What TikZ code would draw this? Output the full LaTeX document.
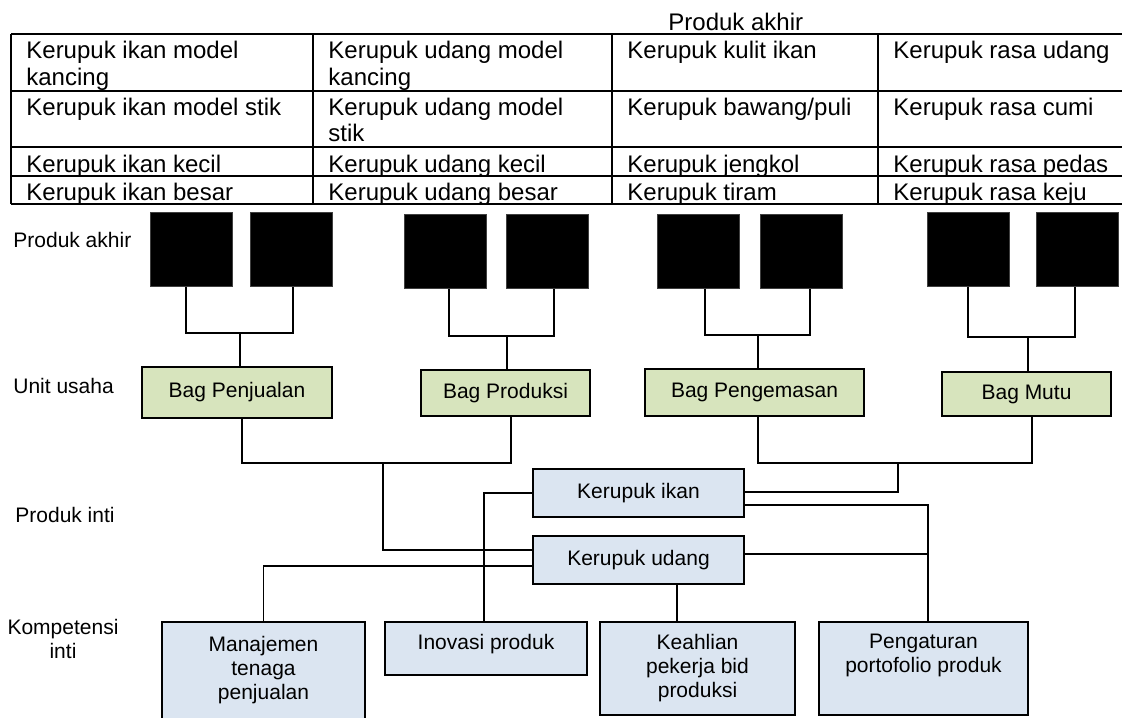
\documentclass[tikz,border=0pt]{standalone}
\usepackage{fontspec}
\setmainfont{Liberation Sans}
\definecolor{gfill}{HTML}{D7E4BD}
\definecolor{bfill}{HTML}{DBE5F1}
\tikzset{
  tline/.style={line width=1pt},
  conn/.style={line width=0.9pt},
  ttext/.style={anchor=base west, inner sep=0pt, font=\fontsize{12}{13}\selectfont},
  lbl/.style={inner sep=0pt, font=\fontsize{10.5}{12}\selectfont},
  blk/.style={draw=black!75, fill=black, line width=0.5pt, minimum width=41pt, minimum height=37pt, inner sep=0pt},
  gbox/.style={draw, line width=0.9pt, fill=gfill, inner sep=0pt, font=\fontsize{10.5}{12}\selectfont},
  kbox/.style={draw, line width=0.9pt, fill=bfill, inner sep=0pt, align=center, font=\fontsize{10.5}{12}\selectfont},
}
\begin{document}
\begin{tikzpicture}[x=0.5pt,y=-0.5pt]
\useasboundingbox (0,0) rectangle (1122,717);
% ---------- table ----------
\node[ttext] (title) at (668,31) {Produk akhir};
\foreach \yy in {34,90.7,147.3,175.7,204.3} \draw[tline] (11,\yy) -- (1122,\yy);
\foreach \xx in {11,313,612,878} \draw[tline] (\xx,34) -- (\xx,204.3);
% row 1
\node[ttext] (t11) at (26,59) {Kerupuk ikan model};
\node[ttext] (t11b) at (26,85) {kancing};
\node[ttext] (t12) at (328,59) {Kerupuk udang model};
\node[ttext] (t12b) at (328,85) {kancing};
\node[ttext] (t13) at (627,59) {Kerupuk kulit ikan};
\node[ttext] (t14) at (893,59) {Kerupuk rasa udang};
% row 2
\node[ttext] (t21) at (26,115.7) {Kerupuk ikan model stik};
\node[ttext] (t22) at (328,115.7) {Kerupuk udang model};
\node[ttext] (t22b) at (328,141.7) {stik};
\node[ttext] (t23) at (627,115.7) {Kerupuk bawang/puli};
\node[ttext] (t24) at (893,115.7) {Kerupuk rasa cumi};
% row 3
\node[ttext] (t31) at (26,172) {Kerupuk ikan kecil};
\node[ttext] (t32) at (328,172) {Kerupuk udang kecil};
\node[ttext] (t33) at (627,172) {Kerupuk jengkol};
\node[ttext] (t34) at (893,172) {Kerupuk rasa pedas};
% row 4
\node[ttext] (t41) at (26,200.5) {Kerupuk ikan besar};
\node[ttext] (t42) at (328,200.5) {Kerupuk udang besar};
\node[ttext] (t43) at (627,200.5) {Kerupuk tiram};
\node[ttext] (t44) at (893,200.5) {Kerupuk rasa keju};
% ---------- left labels ----------
\node[lbl, anchor=west] (l1) at (13,240) {Produk akhir};
\node[lbl, anchor=west] (l2) at (13,386) {Unit usaha};
\node[lbl, anchor=west] (l3) at (15,515) {Produk inti};
\node[lbl, align=center] (l4) at (63,639) {Kompetensi\\inti};
% ---------- black boxes ----------
\node[blk] (b1) at (191,249) {};
\node[blk] (b2) at (291,249) {};
\node[blk] (b3) at (445.5,251) {};
\node[blk] (b4) at (547,251) {};
\node[blk] (b5) at (698,251) {};
\node[blk] (b6) at (801.5,251) {};
\node[blk] (b7) at (968,249) {};
\node[blk] (b8) at (1077,249) {};
% ---------- unit boxes ----------
\node[gbox, minimum width=95pt, minimum height=25.5pt] (bp) at (237,392.5) {Bag Penjualan};
\node[gbox, minimum width=84.5pt, minimum height=23pt] (bq) at (505.5,393) {Bag Produksi};
\node[gbox, minimum width=109.5pt, minimum height=23.5pt] (bg) at (754.5,392.5) {Bag Pengemasan};
\node[gbox, minimum width=84.5pt, minimum height=22pt] (bm) at (1026.5,394) {\raisebox{-1.5pt}{Bag Mutu}};
% ---------- core products ----------
\node[kbox, minimum width=105.5pt, minimum height=24pt] (ki) at (638.5,493) {Kerupuk ikan};
\node[kbox, minimum width=105.5pt, minimum height=24pt] (ku) at (638.5,560) {Kerupuk udang};
% ---------- competences ----------
\node[kbox, anchor=north, minimum width=101.5pt, minimum height=70pt] (mj) at (263.5,621) {Manajemen\\tenaga\\penjualan\\\mbox{}\\\mbox{}};
\node[kbox, anchor=north, minimum width=101pt, minimum height=26.5pt] (ip) at (486,621) {Inovasi produk\\[-5pt]\mbox{}};
\node[kbox, anchor=north, minimum width=97.5pt, minimum height=46.5pt] (kh) at (697.5,621) {Keahlian\\pekerja bid\\produksi};
\node[kbox, anchor=north, minimum width=104.5pt, minimum height=46.5pt] (pg) at (923.5,621) {Pengaturan\\portofolio produk\\\strut};
% ---------- connectors: products to units ----------
\coordinate (j1) at (240,333);
\draw[conn] (186,0 |- b1.south) |- (j1) -| (293,0 |- b2.south);
\draw[conn] (j1) -- (j1 |- bp.north);
\coordinate (j2) at (507,336);
\draw[conn] (449,0 |- b3.south) |- (j2) -| (554,0 |- b4.south);
\draw[conn] (j2) -- (j2 |- bq.north);
\coordinate (j3) at (758,335);
\draw[conn] (705,0 |- b5.south) |- (j3) -| (810,0 |- b6.south);
\draw[conn] (j3) -- (j3 |- bg.north);
\coordinate (j4) at (1028,337);
\draw[conn] (968,0 |- b7.south) |- (j4) -| (1075,0 |- b8.south);
\draw[conn] (j4) -- (j4 |- bm.north);
% ---------- units to core products ----------
\coordinate (j5) at (383,463);
\draw[conn] (242,0 |- bp.south) |- (j5) -| (511,0 |- bq.south);
\draw[conn] (j5) |- (ku.west |- 0,550);
\coordinate (j6) at (898,463);
\draw[conn] (758,0 |- bg.south) |- (j6) -| (1032,0 |- bm.south);
\draw[conn] (j6) |- (ki.east |- 0,492);
% ---------- core products to competences ----------
\draw[conn] (ki.west |- 0,493) -| (484,0 |- ip.north);
\draw[conn] (ku.west |- 0,566) -| (mj.north);
\draw[conn] (ki.east |- 0,505) -| (928,0 |- pg.north);
\coordinate (j7) at (928,554);
\draw[conn] (ku.east |- j7) -- (j7);
\draw[conn] (677,0 |- ku.south) -- (677,0 |- kh.north);
\end{tikzpicture}
\end{document}
